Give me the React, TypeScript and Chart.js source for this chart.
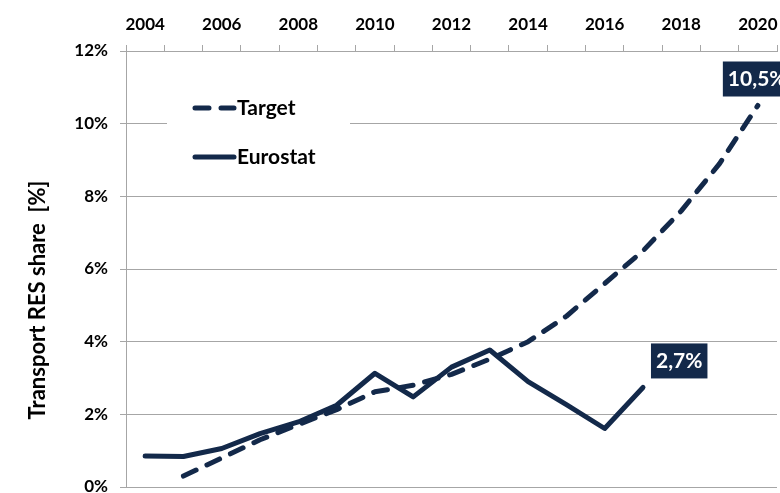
import React, { useEffect, useRef } from 'react';
import { Chart, registerables } from 'chart.js';

Chart.register(...registerables);

const years = ['2004', '2005', '2006', '2007', '2008', '2009', '2010', '2011', '2012', '2013', '2014', '2015', '2016', '2017', '2018', '2019', '2020'];
const targetValues = [null, 0.3, 0.8, 1.3, 1.72, 2.13, 2.62, 2.8, 3.1, 3.52, 4.0, 4.7, 5.6, 6.5, 7.6, 8.9, 10.5];
const eurostatValues = [0.85, 0.84, 1.06, 1.47, 1.79, 2.25, 3.13, 2.48, 3.3, 3.77, 2.9, 2.27, 1.61, 2.74, null, null, null];
const seriesNames = ['Target', 'Eurostat'];
const endLabels = ['10,5%', '2,7%'];
const yTickValues = [0, 2, 4, 6, 8, 10, 12];
const yTitle = 'Transport RES share  [%]';

const NAVY = '#13294a';
const GRID = '#a6a6a6';
const FONT = 'Lato, "Open Sans", sans-serif';

const overlayPlugin = {
  id: 'overlay',
  afterDraw(chart: any) {
    const ctx = chart.ctx;
    ctx.save();
    // y title
    ctx.save();
    ctx.translate(38, 300);
    ctx.rotate(-Math.PI / 2);
    ctx.fillStyle = '#000';
    ctx.font = 'bold 22px ' + FONT;
    ctx.textAlign = 'center';
    ctx.textBaseline = 'middle';
    ctx.fillText(yTitle, 0, 0);
    ctx.restore();
    // legend box
    ctx.fillStyle = '#ffffff';
    ctx.fillRect(167, 82, 183, 100);
    const rows = [108, 157];
    rows.forEach((y, i) => {
      ctx.strokeStyle = NAVY;
      ctx.lineWidth = 5;
      ctx.lineCap = 'round';
      ctx.setLineDash(i === 0 ? [14, 12] : []);
      ctx.beginPath();
      ctx.moveTo(195, y);
      ctx.lineTo(234, y);
      ctx.stroke();
      ctx.setLineDash([]);
      ctx.fillStyle = '#000';
      ctx.font = 'bold 21px ' + FONT;
      ctx.textBaseline = 'middle';
      ctx.textAlign = 'left';
      ctx.fillText(seriesNames[i], 237, y);
    });
    // end labels
    const offsets = [
      { dx: -35, dy: -44 },
      { dx: 8, dy: -44 },
    ];
    chart.data.datasets.forEach((ds: any, di: number) => {
      const meta = chart.getDatasetMeta(di);
      let last = -1;
      ds.data.forEach((v: any, i: number) => { if (v !== null) last = i; });
      const pt = meta.data[last];
      ctx.font = 'bold 21px ' + FONT;
      const w = ctx.measureText(endLabels[di]).width + 10;
      const bx = pt.x + offsets[di].dx;
      const by = pt.y + offsets[di].dy;
      ctx.fillStyle = NAVY;
      ctx.fillRect(bx, by, w, 35);
      ctx.fillStyle = '#ffffff';
      ctx.textBaseline = 'middle';
      ctx.textAlign = 'left';
      ctx.fillText(endLabels[di], bx + 5, by + 18);
    });
    ctx.restore();
  },
};

export default function App() {
  const ref = useRef<HTMLCanvasElement>(null);
  useEffect(() => {
    if (!ref.current) return;
    const chart = new Chart(ref.current, {
      type: 'line',
      data: {
        labels: years,
        datasets: [
          {
            label: seriesNames[0],
            data: targetValues,
            borderColor: NAVY,
            backgroundColor: NAVY,
            borderWidth: 5,
            borderDash: [14, 12],
            borderCapStyle: 'round',
            borderJoinStyle: 'round',
            pointRadius: 0,
            tension: 0,
          },
          {
            label: seriesNames[1],
            data: eurostatValues,
            borderColor: NAVY,
            backgroundColor: NAVY,
            borderWidth: 5,
            borderCapStyle: 'round',
            borderJoinStyle: 'round',
            pointRadius: 0,
            tension: 0,
          },
        ],
      },
      options: {
        animation: false,
        responsive: true,
        maintainAspectRatio: false,
        layout: { padding: { top: 0, left: 0, right: 3, bottom: 6 } },
        plugins: {
          legend: { display: false },
          tooltip: { enabled: false },
        },
        scales: {
          x: {
            type: 'category',
            position: 'top',
            offset: true,
            grid: { offset: true, drawOnChartArea: false, drawTicks: true, tickLength: 6, color: GRID },
            border: { color: GRID, width: 1 },
            ticks: {
              autoSkip: false,
              maxRotation: 0,
              color: '#000',
              padding: 10,
              font: { family: FONT, size: 17, weight: 'bold' },
              callback: (_v: any, i: number) => (i % 2 === 0 ? years[i] : ''),
            },
            afterFit: (s: any) => {
              s.height = 51;
              s.paddingLeft = 0;
              s.paddingRight = 0;
            },
          },
          y: {
            min: 0,
            max: 12,
            afterBuildTicks: (s: any) => { s.ticks = yTickValues.map((v) => ({ value: v })); },
            grid: { color: GRID, tickLength: 6 },
            border: { color: GRID, width: 1 },
            ticks: {
              color: '#000',
              padding: 12,
              font: { family: FONT, size: 17, weight: 'bold' },
              callback: (v: any) => v + '%',
            },
            afterFit: (s: any) => {
              s.width = 126;
              s.paddingTop = 0;
              s.paddingBottom = 0;
            },
          },
        },
      },
      plugins: [overlayPlugin],
    });
    return () => chart.destroy();
  }, []);
  return (
    <div style={{ position: 'absolute', left: 0, top: 0, width: 780, height: 493 }}>
      <canvas ref={ref} />
    </div>
  );
}
